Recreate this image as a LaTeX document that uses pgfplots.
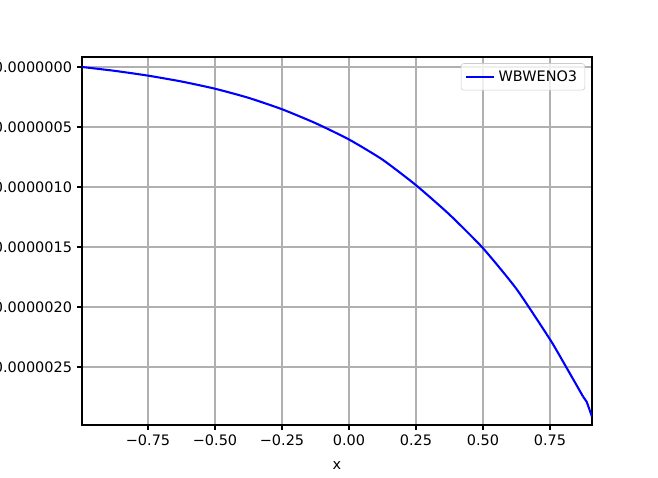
\documentclass[border=0pt]{standalone}
\usepackage{fontspec}
\setmainfont{DejaVu Sans}
\usepackage{pgfplots}
\pgfplotsset{compat=1.18}
\definecolor{gridgray}{RGB}{176,176,176}
\definecolor{legedge}{RGB}{204,204,204}
\begin{document}
\begin{tikzpicture}
\begin{axis}[
  scale only axis,
  width=367.2pt, height=264.96pt,
  xmin=-0.9963, xmax=0.9067,
  ymin=-2.983, ymax=0.0833,
  xtick={-0.75,-0.5,-0.25,0,0.25,0.5,0.75},
  xticklabels={−0.75,−0.50,−0.25,0.00,0.25,0.50,0.75},
  ytick={0,-0.5,-1,-1.5,-2,-2.5},
  yticklabels={0.0000000,0.0000005,0.0000010,0.0000015,0.0000020,0.0000025},
  tick align=outside,
  major tick length=3.5pt,
  tick style={black, line width=0.8pt},
  xtick pos=bottom, ytick pos=left,
  grid=major,
  grid style={gridgray, line width=0.8pt},
  axis line style={black, line width=0.8pt},
  tick label style={font=\fontsize{10.4}{12}\selectfont},
  xticklabel style={inner sep=0pt, yshift=-3.5pt, anchor=north},
  yticklabel style={inner sep=0pt, xshift=-3.5pt, anchor=east},
  xlabel={x},
  xlabel style={font=\fontsize{10.4}{12}\selectfont, inner sep=0pt, anchor=north, at={(rel axis cs:0.5,0)}, yshift=-26pt},
  legend style={at={(rel axis cs:1,1)}, anchor=north east, xshift=-5pt, yshift=-4.5pt,
    draw=legedge, rounded corners=2pt, fill=white, fill opacity=0.8, text opacity=1,
    font=\fontsize{10.4}{12}\selectfont, inner xsep=3pt, inner ysep=3pt, row sep=0pt,
    nodes={inner xsep=2.5pt, inner ysep=2pt}},
  legend cell align=left,
  legend image code/.code={\draw[#1] (0pt,0pt) -- (20pt,0pt);},
]
\addplot[blue, line width=1.5pt, smooth, tension=0.35] coordinates {
(-0.9963,0) (-0.875,-0.032) (-0.75,-0.072) (-0.625,-0.121) (-0.5,-0.181)
(-0.375,-0.257) (-0.25,-0.352) (-0.125,-0.468) (0,-0.604) (0.125,-0.772)
(0.25,-0.985) (0.375,-1.230) (0.5,-1.510) (0.625,-1.850) (0.75,-2.270)
(0.80,-2.46) (0.873,-2.745)
};
\addlegendentry{WBWENO3}
\addplot[blue, line width=1.5pt, forget plot] coordinates {
(0.873,-2.745) (0.887,-2.79) (0.9067,-2.914)
};
\end{axis}
\pgfresetboundingbox
\path[use as bounding box] ([xshift=-59.04pt, yshift=-38.16pt]current axis.south west) rectangle ([xshift=47.52pt, yshift=41.04pt]current axis.north east);
\end{tikzpicture}
\end{document}
